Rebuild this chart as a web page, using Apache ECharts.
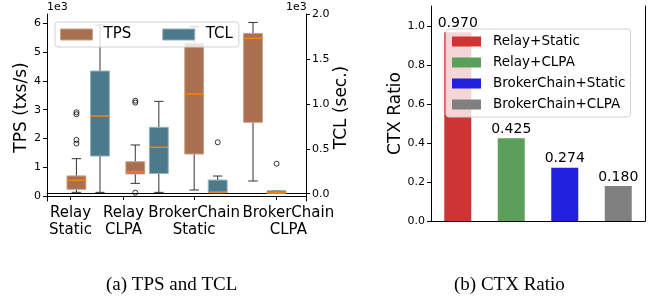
<!DOCTYPE html>
<html>
<head>
<meta charset="utf-8">
<script src="https://cdn.jsdelivr.net/npm/echarts@6/dist/echarts.min.js"></script>
<style>
html, body { margin: 0; padding: 0; background: #fff; }
#chart { width: 668px; height: 296px; }
</style>
</head>
<body>
<div id="chart"></div>
<script>
// (a) TPS and TCL box plots, stats as [min, Q1, median, Q3, max]
const groupLabels = ['Relay\nStatic', 'Relay\nCLPA', 'BrokerChain\nStatic', 'BrokerChain\nCLPA'];
const groupTicks = [0.7, 1.6, 2.8, 4.2];
const groupLabelPos = [0.7, 1.6, 2.8, 4.4];
const tpsPos = [0.8, 1.8, 2.8, 3.8];
const tclPos = [1.2, 2.2, 3.2, 4.2];
const tpsBox = [
  [128, 232, 545, 697, 1297],
  [440, 764, 845, 1190, 1772],
  [208, 1459, 3544, 5310, 5885],
  [521, 2560, 5478, 5650, 6030]
];
const tclBox = [
  [15, 419, 864, 1365, 1877],
  [15, 225, 517, 739, 1028],
  [8, 11, 19, 152, 197],
  [4, 5, 16, 33, 33]
];
// outliers: [position, value]
const tpsOut = [[0.8, 2910], [0.8, 2840], [0.8, 1950], [0.8, 1820], [1.8, 3310], [1.8, 3245], [1.8, 115]];
const tclOut = [[3.2, 572], [4.2, 334]];
const tpsTicks = [0, 1000, 2000, 3000, 4000, 5000, 6000];
const tclTicks = [0, 500, 1000, 1500, 2000];

// (b) CTX ratio
const ctxNames = ['Relay+Static', 'Relay+CLPA', 'BrokerChain+Static', 'BrokerChain+CLPA'];
const ctxValues = [0.970, 0.425, 0.274, 0.180];
const ctxColors = ['#cd3535', '#5aa05a', '#2020dd', '#808080'];
const ctxTicks = [0, 0.2, 0.4, 0.6, 0.8, 1.0];

const tpsFill = '#a8704f', tpsEdge = '#c8a08a';
const tclFill = '#4b7a8c', tclEdge = '#93b0bb';
const boxWidth = 0.32;

function makeBox(fill, edge) {
  return function (params, api) {
    const x = api.value(0);
    const w = api.size([boxWidth, 0])[0];
    const p = i => api.coord([x, api.value(i)]);
    const lo = p(1), q1 = p(2), md = p(3), q3 = p(4), hi = p(5);
    const cx = lo[0];
    const ls = { stroke: '#333', lineWidth: 1 };
    return {
      type: 'group',
      children: [
        { type: 'line', shape: { x1: cx, y1: q1[1], x2: cx, y2: lo[1] }, style: ls },
        { type: 'line', shape: { x1: cx, y1: q3[1], x2: cx, y2: hi[1] }, style: ls },
        { type: 'line', shape: { x1: cx - w / 4, y1: lo[1], x2: cx + w / 4, y2: lo[1] }, style: ls },
        { type: 'line', shape: { x1: cx - w / 4, y1: hi[1], x2: cx + w / 4, y2: hi[1] }, style: ls },
        { type: 'rect', shape: { x: cx - w / 2, y: q3[1], width: w, height: Math.max(q1[1] - q3[1], 1) },
          style: { fill: fill, stroke: edge, lineWidth: 1 } },
        { type: 'line', shape: { x1: cx - w / 2, y1: md[1], x2: cx + w / 2, y2: md[1] },
          style: { stroke: '#ff7f0e', lineWidth: 1.5 } }
      ]
    };
  };
}

const font = 'DejaVu Sans';
const black = '#000';
const frameLine = { show: true, lineStyle: { color: black, width: 1 } };
const noSplit = { show: false };

const chart = echarts.init(document.getElementById('chart'));
chart.setOption({
  animation: false,
  textStyle: { fontFamily: font, color: black },
  grid: [
    { left: 47, top: 14, width: 259, height: 187 },
    { left: 431, top: 6, width: 214, height: 215 }
  ],
  legend: [
    {
      data: [
        { name: 'TPS', icon: 'rect', itemStyle: { color: tpsFill, borderColor: tpsEdge, borderWidth: 1 } },
        { name: 'TCL', icon: 'rect', itemStyle: { color: tclFill, borderColor: tclEdge, borderWidth: 1 } }
      ],
      left: 55, top: 22, orient: 'horizontal',
      itemWidth: 32, itemHeight: 11, itemGap: 31,
      padding: [4, 6, 4, 5],
      backgroundColor: 'rgba(255,255,255,0.8)', borderColor: '#d0d0d0', borderWidth: 1, borderRadius: 3,
      textStyle: { fontFamily: font, fontSize: 15, color: black, padding: [0, 0, 0, 6], lineHeight: 17 }
    },
    {
      data: ctxNames.map((n, i) => ({ name: n, icon: 'rect', itemStyle: { color: ctxColors[i] } })),
      left: 446, top: 29, orient: 'vertical',
      itemWidth: 29, itemHeight: 10, itemGap: 6,
      padding: [5, 5, 5, 6],
      backgroundColor: 'rgba(255,255,255,0.8)', borderColor: '#d0d0d0', borderWidth: 1, borderRadius: 3,
      textStyle: { fontFamily: font, fontSize: 13.5, color: black, padding: [0, 0, 0, 7], lineHeight: 15 }
    }
  ],
  xAxis: [
    {
      gridIndex: 0, type: 'value', min: 0.3, max: 4.7, position: 'bottom',
      axisLine: frameLine,
      axisTick: { show: true, length: 4, customValues: groupTicks, lineStyle: { color: black } },
      axisLabel: {
        customValues: groupLabelPos, fontSize: 15, lineHeight: 17, color: black, margin: 4,
        hideOverlap: false, showMinLabel: true, showMaxLabel: true,
        formatter: v => {
          let k = 0;
          groupLabelPos.forEach((t, i) => { if (Math.abs(t - v) < Math.abs(groupLabelPos[k] - v)) k = i; });
          return groupLabels[k];
        }
      },
      splitLine: noSplit
    },
    {
      gridIndex: 0, type: 'value', min: 0, max: 1, position: 'top',
      axisLine: frameLine, axisTick: { show: false }, axisLabel: { show: false }, splitLine: noSplit
    },
    {
      gridIndex: 1, type: 'category', data: ctxNames, position: 'bottom',
      axisLine: frameLine, axisTick: { show: false }, axisLabel: { show: false }, splitLine: noSplit
    },
    {
      gridIndex: 1, type: 'value', min: 0, max: 1, position: 'top',
      axisLine: frameLine, axisTick: { show: false }, axisLabel: { show: false }, splitLine: noSplit
    }
  ],
  yAxis: [
    {
      gridIndex: 0, type: 'value', min: -174, max: 6324, position: 'left',
      axisLine: frameLine,
      axisTick: { show: true, length: 4, customValues: tpsTicks, lineStyle: { color: black } },
      axisLabel: { customValues: tpsTicks, fontSize: 11, color: black, margin: 6, formatter: v => String(v / 1000) },
      name: 'TPS (txs/s)', nameLocation: 'middle', nameRotate: 90, nameGap: 12,
      nameTextStyle: { fontSize: 17, color: black, fontFamily: font },
      splitLine: noSplit
    },
    {
      gridIndex: 0, type: 'value', min: -81, max: 2000, position: 'right',
      axisLine: frameLine,
      axisTick: { show: true, length: 4, customValues: tclTicks, lineStyle: { color: black } },
      axisLabel: { customValues: tclTicks, fontSize: 11, color: black, margin: 6, formatter: v => (v / 1000).toFixed(1) },
      name: 'TCL (sec.)', nameLocation: 'middle', nameRotate: 90, nameGap: 27,
      nameTextStyle: { fontSize: 17, color: black, fontFamily: font },
      splitLine: noSplit
    },
    {
      gridIndex: 1, type: 'value', min: 0, max: 1.105, position: 'left',
      axisLine: frameLine,
      axisTick: { show: true, length: 4, customValues: ctxTicks, lineStyle: { color: black } },
      axisLabel: { customValues: ctxTicks, fontSize: 11, color: black, margin: 6, formatter: v => v.toFixed(1) },
      name: 'CTX Ratio', nameLocation: 'middle', nameRotate: 90, nameGap: 23,
      nameTextStyle: { fontSize: 17, color: black, fontFamily: font },
      splitLine: noSplit
    },
    {
      gridIndex: 1, type: 'value', min: 0, max: 1, position: 'right',
      axisLine: frameLine, axisTick: { show: false }, axisLabel: { show: false }, splitLine: noSplit
    }
  ],
  graphic: [
    { type: 'text', left: 47, top: 2, style: { text: '1e3', font: '11px DejaVu Sans', fill: black } },
    { type: 'text', left: 286, top: 2, style: { text: '1e3', font: '11px DejaVu Sans', fill: black } },
    { type: 'text', left: 106, top: 276, style: { text: '(a) TPS and TCL', font: '19px Liberation Serif', fill: black } },
    { type: 'text', left: 454, top: 276, style: { text: '(b) CTX Ratio', font: '19px Liberation Serif', fill: black } }
  ],
  series: [
    {
      name: 'TPS', type: 'custom', xAxisIndex: 0, yAxisIndex: 0,
      itemStyle: { color: tpsFill },
      renderItem: makeBox(tpsFill, tpsEdge),
      encode: { x: 0, y: [1, 2, 3, 4, 5] },
      data: tpsPos.map((x, i) => [x].concat(tpsBox[i]))
    },
    {
      name: 'TCL', type: 'custom', xAxisIndex: 0, yAxisIndex: 1,
      itemStyle: { color: tclFill },
      renderItem: makeBox(tclFill, tclEdge),
      encode: { x: 0, y: [1, 2, 3, 4, 5] },
      data: tclPos.map((x, i) => [x].concat(tclBox[i]))
    },
    {
      name: 'TPS outliers', type: 'scatter', xAxisIndex: 0, yAxisIndex: 0,
      symbol: 'circle', symbolSize: 5,
      itemStyle: { color: 'rgba(0,0,0,0)', borderColor: black, borderWidth: 1 },
      data: tpsOut
    },
    {
      name: 'TCL outliers', type: 'scatter', xAxisIndex: 0, yAxisIndex: 1,
      symbol: 'circle', symbolSize: 5,
      itemStyle: { color: 'rgba(0,0,0,0)', borderColor: black, borderWidth: 1 },
      data: tclOut
    }
  ].concat(ctxNames.map((n, i) => ({
    name: n, type: 'bar', xAxisIndex: 2, yAxisIndex: 2,
    barWidth: 27, barGap: '-100%',
    itemStyle: { color: ctxColors[i] },
    label: { show: true, position: 'top', distance: 2, fontSize: 14, color: black, fontFamily: font,
      formatter: p => p.value.toFixed(3) },
    data: ctxValues.map((v, j) => (j === i ? v : '-'))
  })))
});
</script>
</body>
</html>
